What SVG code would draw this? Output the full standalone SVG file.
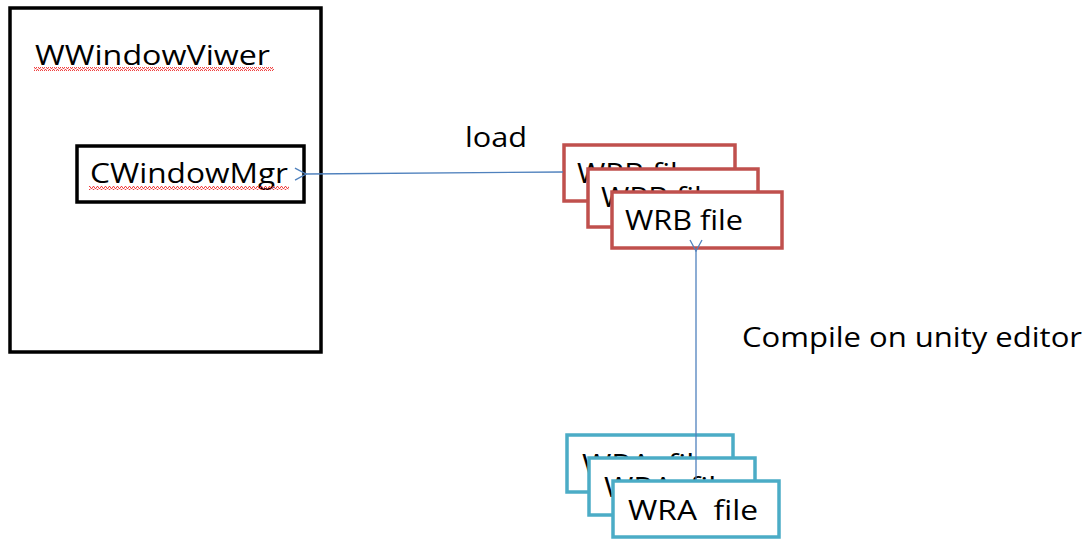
<svg xmlns="http://www.w3.org/2000/svg" width="1088" height="539" viewBox="0 0 1088 539">
<defs>
<style>
text{font-family:"Open Sans","Liberation Sans",sans-serif;font-size:28px;fill:#000}
.blk{fill:#fff;stroke:#000;stroke-width:3.5}
.red{fill:#fff;stroke:#c0504d;stroke-width:3.5}
.cyan{fill:#fff;stroke:#4bacc6;stroke-width:3.5}
.conn{stroke:#4f81bd;stroke-width:1.3;fill:none}
.squig{stroke:#f04040;stroke-width:1;fill:none}
</style>
<marker id="ah" markerWidth="14" markerHeight="14" refX="1" refY="7" orient="auto" markerUnits="userSpaceOnUse">
<path d="M12,1 L1,7 L12,13" fill="none" stroke="#4f81bd" stroke-width="1.3"/>
</marker>
<pattern id="wave" width="4" height="3" patternUnits="userSpaceOnUse">
<path d="M0,2.5 L1,0.5 L2,0.5 L3,2.5 L4,2.5" class="squig"/>
</pattern>
</defs>
<g id="wwindowviwer">
<rect class="blk" x="10" y="8" width="311" height="344"/>
<text x="35" y="65" textLength="235" lengthAdjust="spacingAndGlyphs">WWindowViwer</text>
<rect x="34" y="67" width="240" height="4" fill="url(#wave)"/>
</g>
<g id="cwindowmgr">
<rect class="blk" x="77" y="146" width="227" height="56"/>
<text x="90" y="183" textLength="198" lengthAdjust="spacingAndGlyphs">CWindowMgr</text>
<rect x="89" y="186" width="200" height="4" fill="url(#wave)"/>
</g>
<g id="wrb1">
<rect class="red" x="564" y="145" width="171" height="56"/>
<text x="577" y="183" textLength="118" lengthAdjust="spacingAndGlyphs">WRB file</text>
</g>
<g id="wrb2">
<rect class="red" x="588" y="169" width="170" height="58"/>
<text x="601" y="207" textLength="118" lengthAdjust="spacingAndGlyphs">WRB file</text>
</g>
<g id="wrb3">
<rect class="red" x="612" y="192" width="170" height="56"/>
<text x="625" y="230" textLength="118" lengthAdjust="spacingAndGlyphs">WRB file</text>
</g>
<g id="wra1">
<rect class="cyan" x="567" y="435" width="166" height="57"/>
<text x="582" y="474" textLength="130" lengthAdjust="spacingAndGlyphs" xml:space="preserve">WRA  file</text>
</g>
<g id="wra2">
<rect class="cyan" x="589" y="458" width="166" height="57"/>
<text x="604" y="497" textLength="130" lengthAdjust="spacingAndGlyphs" xml:space="preserve">WRA  file</text>
</g>
<g id="connectors">
<path class="conn" d="M563,172 L306,174" marker-end="url(#ah)"/>
<path class="conn" d="M696,490 L696,251" marker-end="url(#ah)"/>
</g>
<g id="wra3">
<rect class="cyan" x="613" y="481" width="166" height="56"/>
<text x="628" y="520" textLength="130" lengthAdjust="spacingAndGlyphs" xml:space="preserve">WRA  file</text>
</g>
<g id="labels">
<text x="465" y="147" textLength="62" lengthAdjust="spacingAndGlyphs">load</text>
<text x="742" y="347" textLength="340" lengthAdjust="spacingAndGlyphs">Compile on unity editor</text>
</g>
</svg>
